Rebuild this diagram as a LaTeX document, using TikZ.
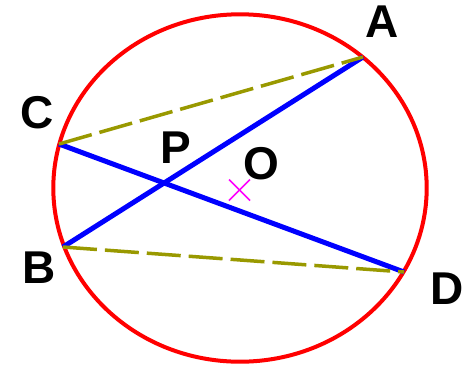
\documentclass[tikz,border=0pt]{standalone}
\usepackage{fontspec}
\setmainfont{Liberation Sans}
\usetikzlibrary{calc}
\tikzset{
  lbl/.style={font=\fontsize{46}{46}\selectfont\bfseries, inner sep=0pt, anchor=center, text=black},
  circ/.style={draw=red, line width=4pt},
  chord/.style={draw=blue, line width=5pt},
  dashchord/.style={draw=olive2, line width=3.5pt, dash pattern=on 34pt off 8pt},
  centremark/.style={draw=magenta2, line width=1.5pt}
}
\definecolor{olive2}{RGB}{153,153,0}
\definecolor{magenta2}{RGB}{255,0,255}
\begin{document}
\begin{tikzpicture}[x=1pt,y=-1pt]
\useasboundingbox (0,0) rectangle (466,373);
\coordinate (O) at (239.5,190);
\coordinate (A) at (363,57);
\coordinate (C) at (59,144);
\coordinate (B) at (63,247);
\coordinate (D) at (404,272);
\draw[circ] (240,188) ellipse [x radius=186.7, y radius=173.7];
\draw[chord] (A) -- (B);
\draw[chord] (C) -- (D);
\draw[dashchord] (C) -- (A);
\draw[dashchord] (B) -- (D);
\draw[centremark] ($(O)+(-10.5,-10.5)$) -- ($(O)+(10.5,10.5)$);
\draw[centremark] ($(O)+(-10.5,10.5)$) -- ($(O)+(10.5,-10.5)$);
\node[lbl] (lA) at (382.5,21.7) {A};
\node[lbl] (lC) at (37.5,112.5) {C};
\node[lbl] (lP) at (175.5,147.5) {P};
\node[lbl] (lO) at (261,163.5) {O};
\node[lbl] (lB) at (39,267.5) {B};
\node[lbl] (lD) at (447,288.5) {D};
\end{tikzpicture}
\end{document}
